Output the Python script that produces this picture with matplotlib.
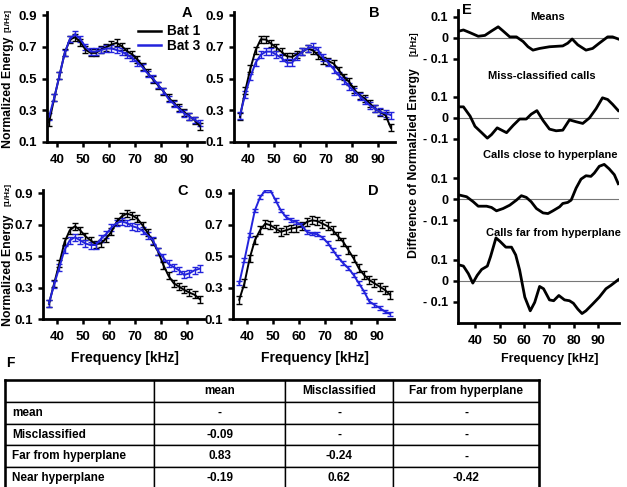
import matplotlib
matplotlib.use("Agg")
import matplotlib.pyplot as plt
from matplotlib.lines import Line2D

W, H = 627, 487
plt.rcParams["font.family"] = ["Liberation Sans", "DejaVu Sans"]
plt.rcParams["font.weight"] = "bold"

blue = "#2323dc"

# frequencies of the averaged spectra (kHz)
freq = [37, 39, 41, 43, 45, 47, 49, 51, 53, 55, 57, 59, 61, 63, 65,
        67, 69, 71, 73, 75, 77, 79, 81, 83, 85, 87, 89, 91, 93, 95]

a_bat1 = [0.224, 0.378, 0.519, 0.662, 0.746, 0.761, 0.73, 0.683, 0.662, 0.662,
          0.683, 0.698, 0.715, 0.725, 0.704, 0.673, 0.652, 0.62, 0.578, 0.536,
          0.494, 0.456, 0.42, 0.378, 0.346, 0.315, 0.287, 0.262, 0.237, 0.2]
a_bat3 = [0.26, 0.38, 0.52, 0.66, 0.75, 0.78, 0.75, 0.70, 0.67, 0.67,
          0.68, 0.69, 0.69, 0.68, 0.67, 0.65, 0.63, 0.60, 0.57, 0.53,
          0.50, 0.46, 0.42, 0.37, 0.34, 0.31, 0.28, 0.26, 0.24, 0.22]

b_bat1 = [0.258, 0.422, 0.563, 0.679, 0.748, 0.746, 0.72, 0.696, 0.668, 0.641,
          0.637, 0.654, 0.668, 0.69, 0.679, 0.647, 0.616, 0.61, 0.595, 0.553,
          0.51, 0.479, 0.43, 0.395, 0.374, 0.342, 0.31, 0.289, 0.268, 0.19]
b_bat3 = [0.27, 0.40, 0.51, 0.60, 0.65, 0.67, 0.67, 0.65, 0.63, 0.60,
          0.60, 0.64, 0.67, 0.69, 0.70, 0.68, 0.63, 0.60, 0.56, 0.52,
          0.49, 0.45, 0.42, 0.39, 0.36, 0.33, 0.31, 0.29, 0.28, 0.27]

c_bat1 = [0.197, 0.327, 0.454, 0.59, 0.664, 0.69, 0.664, 0.626, 0.60, 0.576,
          0.58, 0.612, 0.654, 0.717, 0.753, 0.77, 0.759, 0.738, 0.696, 0.647,
          0.59, 0.527, 0.443, 0.374, 0.327, 0.306, 0.285, 0.268, 0.254, 0.226]
c_bat3 = [0.20, 0.32, 0.43, 0.54, 0.60, 0.62, 0.60, 0.58, 0.57, 0.57,
          0.61, 0.64, 0.68, 0.71, 0.72, 0.71, 0.69, 0.68, 0.66, 0.63,
          0.60, 0.53, 0.49, 0.45, 0.43, 0.41, 0.38, 0.39, 0.41, 0.42]

d_bat1 = [0.222, 0.327, 0.485, 0.60, 0.664, 0.706, 0.696, 0.675, 0.654, 0.664,
          0.675, 0.68, 0.69, 0.717, 0.727, 0.723, 0.706, 0.69, 0.664, 0.626,
          0.59, 0.538, 0.485, 0.422, 0.38, 0.348, 0.327, 0.306, 0.285, 0.254]
d_bat3 = [0.327, 0.475, 0.633, 0.79, 0.874, 0.917, 0.917, 0.854, 0.79, 0.748,
          0.727, 0.717, 0.696, 0.654, 0.643, 0.639, 0.618, 0.584, 0.538, 0.492,
          0.454, 0.422, 0.38, 0.327, 0.275, 0.212, 0.19, 0.17, 0.148, 0.132]

# typical error bar (SEM) per panel A-D
err_bat1 = [0.022, 0.022, 0.022, 0.025]
err_bat3 = [0.02, 0.022, 0.022, 0.012]

# panel E: difference curves (Bat 1 - Bat 3)
means_f = [33.7, 35.3, 38.0, 41.3, 44.0, 46.7, 49.4, 51.4, 54.1, 56.8, 59.5, 61.5, 63.5,
           66.2, 70.2, 75.6, 77.6, 79.4, 81.7, 85.0, 87.7, 90.4, 93.8, 95.8, 98.1]
means_d = [0.033, 0.038, 0.025, 0.008, 0.012, 0.033, 0.053, 0.033, 0.005, 0.005, -0.017,
           -0.042, -0.058, -0.05, -0.042, -0.038, -0.025, -0.005, -0.033, -0.058, -0.05,
           -0.025, 0.005, 0.005, -0.005]

miss_f = [33.7, 35.3, 38.0, 40.0, 42.7, 45.0, 46.7, 49.0, 50.8, 52.8, 55.5, 58.1, 60.8, 62.8,
          65.1, 67.6, 70.2, 72.9, 75.6, 78.3, 81.0, 83.7, 86.4, 89.1, 91.7, 93.8, 95.8, 98.1]
miss_d = [0.053, 0.053, 0.009, -0.04, -0.07, -0.096, -0.079, -0.047, -0.058, -0.07, -0.035,
          -0.005, -0.005, 0.018, 0.035, -0.012, -0.053, -0.061, -0.058, -0.009, -0.018,
          -0.026, 0.0, 0.044, 0.096, 0.088, 0.065, 0.035]

close_f = [33.7, 36.6, 39.3, 41.3, 44.7, 46.7, 48.7, 51.4, 54.1, 56.8, 58.8, 60.8, 62.8, 64.9,
           67.6, 69.6, 71.6, 74.3, 75.6, 77.6, 79.0, 81.0, 83.0, 85.0, 87.0, 88.4, 90.4, 92.4,
           94.4, 96.5, 98.1]
close_d = [0.019, 0.011, -0.013, -0.034, -0.034, -0.04, -0.056, -0.045, -0.029, -0.005, 0.016,
           0.008, -0.013, -0.045, -0.066, -0.069, -0.056, -0.037, -0.021, -0.016, -0.005,
           0.052, 0.095, 0.111, 0.108, 0.124, 0.156, 0.165, 0.144, 0.116, 0.073]

far_f = [33.7, 35.3, 37.3, 39.1, 40.9, 42.7, 45.0, 46.3, 48.5, 50.1, 52.5, 54.8, 56.5, 58.1,
         60.2, 62.4, 64.2, 66.2, 67.8, 70.2, 71.9, 74.0, 76.3, 78.3, 79.9, 81.7, 83.4, 85.0,
         87.7, 90.4, 93.1, 95.1, 98.1]
far_d = [0.076, 0.071, 0.035, -0.01, 0.027, 0.055, 0.071, 0.116, 0.205, 0.189, 0.161, 0.161,
         0.124, 0.052, -0.077, -0.142, -0.102, -0.026, -0.037, -0.09, -0.094, -0.069, -0.09,
         -0.094, -0.106, -0.134, -0.155, -0.142, -0.11, -0.077, -0.037, -0.021, 0.006]

e_titles = ["Means", "Miss-classified calls", "Calls close to hyperplane", "Calls far from hyperplane"]
e_offsets = [0.0, -0.381, -0.767, -1.157]

# panel F: correlation table
header = ["", "mean", "Misclassified", "Far from hyperplane"]
row_names = ["mean", "Misclassified", "Far from hyperplane", "Near hyperplane"]
corr_mean = ["-", "-0.09", "0.83", "-0.19"]
corr_mis = ["-", "-", "-0.24", "0.62"]
corr_far = ["-", "-", "-", "-0.42"]


def box(l, t, r, b):
    return [l / W, 1 - b / H, (r - l) / W, (b - t) / H]


def style_axes(ax):
    for s in ["top", "right"]:
        ax.spines[s].set_visible(False)
    for s in ["left", "bottom"]:
        ax.spines[s].set_linewidth(2.0)
    ax.tick_params(direction="out", length=3.5, width=1.8, labelsize=9.5, pad=3.5)


def spectra_panel(left, top, x0, bottom, y1, y3, e1, e3, letter):
    right = left + (96.5 - x0) * 2.6
    ax = fig.add_axes(box(left, top, right, bottom))
    ax.errorbar(freq, y1, yerr=e1, color="black", lw=1.4, elinewidth=1.0,
                capsize=2, capthick=1.0)
    ax.errorbar(freq, y3, yerr=e3, color=blue, lw=1.4, elinewidth=1.0,
                capsize=2, capthick=1.0)
    ax.set_xlim(x0, 96.5)
    ax.set_ylim(0.1, 0.92)
    ax.set_yticks([0.1, 0.3, 0.5, 0.7, 0.9])
    ax.set_yticklabels(["0.1", "0.3", "0.5", "0.7", "0.9"])
    ax.set_xticks([40, 50, 60, 70, 80, 90])
    style_axes(ax)
    ax.tick_params(axis="x", pad=5)
    fig.text((left + 140) / W, 1 - (top + 1) / H, letter, fontsize=10.5,
             ha="center", va="center")
    return ax


fig = plt.figure(figsize=(W / 100, H / 100), dpi=100)

ax_a = spectra_panel(47, 12, 36.2, 142, a_bat1, a_bat3, err_bat1[0], err_bat3[0], "A")
ax_b = spectra_panel(234, 12, 34.7, 142, b_bat1, b_bat3, err_bat1[1], err_bat3[1], "B")
ax_c = spectra_panel(43, 190, 34.7, 319, c_bat1, c_bat3, err_bat1[2], err_bat3[2], "C")
ax_d = spectra_panel(233, 190, 34.6, 319, d_bat1, d_bat3, err_bat1[3], err_bat3[3], "D")

ax_a.legend(handles=[Line2D([], [], color="black", lw=1.8), Line2D([], [], color=blue, lw=1.8)],
            labels=["Bat 1", "Bat 3"], loc="upper left", bbox_to_anchor=(0.58, 0.905),
            frameon=False, fontsize=9.8, handlelength=1.7, handletextpad=0.4,
            labelspacing=0.05, borderpad=0, borderaxespad=0)

# y labels of A and C
for yc, yu in [(92, 20), (270, 194)]:
    fig.text(8 / W, 1 - yc / H, "Normalized Energy", rotation=90, fontsize=8.8,
             ha="center", va="center")
    fig.text(8 / W, 1 - yu / H, "[1/Hz]", rotation=90, fontsize=6,
             ha="center", va="center")

for xc in [125, 315]:
    fig.text(xc / W, 1 - 358 / H, "Frequency [kHz]", fontsize=10, ha="center", va="center")

# panel E
ax_e = fig.add_axes(box(458, 10, 619, 323))
ax_e.set_xlim(33.1, 98.4)
ax_e.set_ylim(-1.357, 0.133)
curves = [(means_f, means_d), (miss_f, miss_d), (close_f, close_d), (far_f, far_d)]
ticks, labels = [], []
for (fx, dy), off in zip(curves, e_offsets):
    ax_e.axhline(off, color="#777777", lw=0.8, zorder=1)
    ax_e.plot(fx, [v + off for v in dy], color="black", lw=2.0, zorder=2)
    ticks += [off + 0.1, off, off - 0.1]
    labels += ["0.1", "0", "- 0.1"]
ax_e.set_yticks(ticks)
ax_e.set_yticklabels(labels)
ax_e.set_xticks([40, 50, 60, 70, 80, 90])
style_axes(ax_e)
ax_e.tick_params(axis="y", labelsize=9)
ax_e.tick_params(axis="x", pad=5)

for title, (tx, ty) in zip(e_titles, [(548, 17), (542, 76), (550, 155), (553, 233)]):
    fig.text(tx / W, 1 - ty / H, title, fontsize=8, ha="center", va="center")

fig.text(467 / W, 1 - 10 / H, "E", fontsize=10.5, ha="center", va="center")
fig.text(414 / W, 1 - 163 / H, "Difference of Normalzied Energy", rotation=90,
         fontsize=8.8, ha="center", va="center")
fig.text(414 / W, 1 - 44 / H, "[1/Hz]", rotation=90, fontsize=6.5,
         ha="center", va="center")
fig.text(550 / W, 1 - 359 / H, "Frequency [kHz]", fontsize=9, ha="center", va="center")

# panel F table
fig.text(10 / W, 1 - 363 / H, "F", fontsize=10, ha="center", va="center")
ax_t = fig.add_axes(box(5, 380, 539, 489))
ax_t.set_xticks([])
ax_t.set_yticks([])
for s in ax_t.spines.values():
    s.set_linewidth(1.8)
ax_t.patch.set_alpha(0)
cells = [[n, a, b, c] for n, a, b, c in zip(row_names, corr_mean, corr_mis, corr_far)]
col_w = [149, 131, 108, 146]
tbl = ax_t.table(cellText=cells, colLabels=header, cellLoc="center",
                 colWidths=[w / sum(col_w) for w in col_w], bbox=[0, 0, 1, 1])
tbl.auto_set_font_size(False)
tbl.set_fontsize(8.5)
for (r, c), cell in tbl.get_celld().items():
    cell.set_linewidth(1.0)
    cell.get_text().set_fontweight("bold")
    if c == 0:
        cell.get_text().set_horizontalalignment("left")
        cell.PAD = 0.05

fig.savefig("out.png", dpi=100)
